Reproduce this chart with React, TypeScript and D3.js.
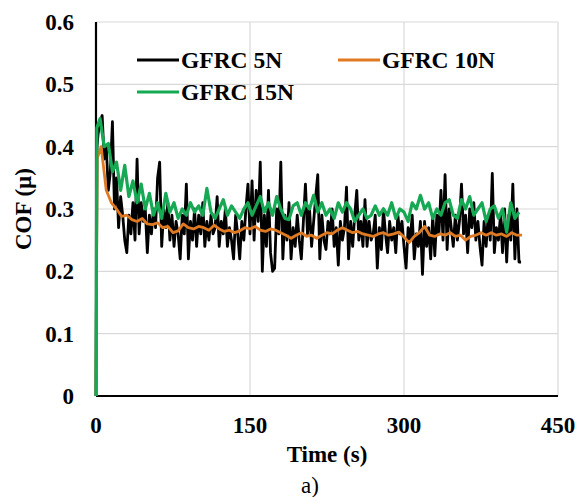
import React from "react";
import * as d3 from "d3";

const xTicks = [0, 150, 300, 450];
const yTicks = [0, 0.1, 0.2, 0.3, 0.4, 0.5, 0.6];
const yTickLabels = ["0", "0.1", "0.2", "0.3", "0.4", "0.5", "0.6"];
const seriesNames = ["GFRC 5N", "GFRC 10N", "GFRC 15N"];
const seriesColors = ["#000000", "#E07A22", "#16A853"];

// start-up rise (time s, COF) for each series
const riseT5N = [0, 1];
const riseV5N = [0, 0.40];
const riseT10N = [0, 1];
const riseV10N = [0, 0.38];
const riseT15N = [0, 0.8];
const riseV15N = [0, 0.43];

// GFRC 5N, every 2 s from t = 2 s
const start5N = 2;
const step5N = 2;
const cof5N = [
  0.42, 0.44, 0.45, 0.38, 0.40, 0.33, 0.36, 0.44, 0.30, 0.35, 0.27, 0.32, 0.29, 0.25, 0.23,
  0.29, 0.26, 0.31, 0.25, 0.38, 0.26, 0.31, 0.28, 0.30, 0.23, 0.29, 0.26, 0.30, 0.27, 0.35,
  0.375, 0.24, 0.30, 0.27, 0.31, 0.25, 0.29, 0.24, 0.28, 0.26, 0.22, 0.29, 0.26, 0.34, 0.22,
  0.28, 0.25, 0.30, 0.24, 0.29, 0.26, 0.31, 0.24, 0.28, 0.25, 0.29, 0.26, 0.27, 0.32, 0.24,
  0.28, 0.26, 0.30, 0.24, 0.27, 0.25, 0.22, 0.29, 0.26, 0.22, 0.28, 0.25, 0.30, 0.34, 0.26,
  0.345, 0.25, 0.33, 0.28, 0.375, 0.20, 0.29, 0.24, 0.33, 0.23, 0.20, 0.205, 0.30, 0.26, 0.375,
  0.22, 0.29, 0.25, 0.31, 0.22, 0.27, 0.24, 0.29, 0.25, 0.22, 0.28, 0.34, 0.26, 0.30, 0.24,
  0.28, 0.32, 0.355, 0.22, 0.29, 0.25, 0.235, 0.28, 0.26, 0.30, 0.24, 0.27, 0.21, 0.28, 0.25,
  0.27, 0.335, 0.22, 0.28, 0.24, 0.29, 0.33, 0.25, 0.28, 0.24, 0.315, 0.24, 0.28, 0.25, 0.26,
  0.29, 0.205, 0.27, 0.235, 0.30, 0.26, 0.23, 0.28, 0.25, 0.27, 0.23, 0.29, 0.26, 0.28, 0.24,
  0.205, 0.27, 0.25, 0.29, 0.22, 0.26, 0.24, 0.28, 0.195, 0.28, 0.24, 0.27, 0.22, 0.29, 0.225,
  0.29, 0.26, 0.33, 0.25, 0.355, 0.235, 0.30, 0.27, 0.24, 0.29, 0.25, 0.28, 0.34, 0.26, 0.29,
  0.23, 0.30, 0.27, 0.31, 0.25, 0.28, 0.24, 0.21, 0.28, 0.24, 0.29, 0.25, 0.357, 0.23, 0.27,
  0.25, 0.29, 0.23, 0.30, 0.215, 0.29, 0.25, 0.34, 0.22, 0.30, 0.215, 0.215,
];

// GFRC 10N, every 5 s from t = 5 s
const start10N = 5;
const step10N = 5;
const cof10N = [
  0.40, 0.33, 0.31, 0.30, 0.288, 0.29, 0.283, 0.28, 0.285,
  0.276, 0.275, 0.278, 0.27, 0.272, 0.262, 0.265, 0.276, 0.27, 0.268,
  0.272, 0.27, 0.266, 0.274, 0.268, 0.264, 0.266, 0.262, 0.265, 0.27,
  0.268, 0.272, 0.266, 0.264, 0.268, 0.266, 0.262, 0.258, 0.253, 0.258,
  0.262, 0.256, 0.258, 0.253, 0.258, 0.262, 0.26, 0.266, 0.27, 0.266,
  0.262, 0.264, 0.26, 0.258, 0.256, 0.26, 0.262, 0.258, 0.26, 0.263,
  0.255, 0.246, 0.256, 0.262, 0.272, 0.258, 0.256, 0.26, 0.258, 0.262,
  0.256, 0.258, 0.25, 0.256, 0.258, 0.262, 0.258, 0.262, 0.258, 0.26,
  0.256, 0.262, 0.258, 0.258,
];

// GFRC 15N, every 4 s from t = 4 s
const start15N = 4;
const step15N = 4;
const cof15N = [
  0.445, 0.40, 0.405, 0.36, 0.375, 0.33, 0.37, 0.32, 0.345,
  0.31, 0.34, 0.30, 0.325, 0.29, 0.31, 0.285, 0.325, 0.295, 0.31,
  0.285, 0.30, 0.29, 0.31, 0.295, 0.305, 0.29, 0.333, 0.295, 0.285,
  0.30, 0.315, 0.29, 0.305, 0.295, 0.285, 0.30, 0.31, 0.29, 0.305,
  0.32, 0.295, 0.31, 0.29, 0.32, 0.30, 0.285, 0.283, 0.305, 0.31,
  0.29, 0.31, 0.30, 0.322, 0.295, 0.31, 0.29, 0.30, 0.285, 0.31,
  0.295, 0.31, 0.30, 0.28, 0.29, 0.30, 0.285, 0.29, 0.305, 0.29,
  0.30, 0.29, 0.31, 0.285, 0.30, 0.295, 0.28, 0.31, 0.30, 0.322,
  0.30, 0.31, 0.285, 0.30, 0.29, 0.31, 0.315, 0.29, 0.285, 0.315,
  0.30, 0.32, 0.29, 0.30, 0.31, 0.28, 0.30, 0.305, 0.285, 0.30,
  0.263, 0.31, 0.285, 0.295,
];

const W = 584;
const H = 497;
const plot = { left: 96, right: 558, top: 22, bottom: 396 };
const FONT = "'Liberation Serif', 'Times New Roman', serif";

export default function App() {
  const x = d3.scaleLinear().domain([0, 450]).range([plot.left, plot.right]);
  const y = d3.scaleLinear().domain([0, 0.6]).range([plot.bottom, plot.top]);

  const line = d3
    .line<[number, number]>()
    .x((d) => x(d[0]))
    .y((d) => y(d[1]));

  const toPts = (
    riseT: number[],
    riseV: number[],
    vals: number[],
    start: number,
    step: number
  ): [number, number][] => [
    ...riseT.map((t, i) => [t, riseV[i]] as [number, number]),
    ...vals.map((v, i) => [start + i * step, v] as [number, number]),
  ];

  const series = [
    { pts: toPts(riseT5N, riseV5N, cof5N, start5N, step5N), color: seriesColors[0], w: 2.8 },
    { pts: toPts(riseT10N, riseV10N, cof10N, start10N, step10N), color: seriesColors[1], w: 2.8 },
    { pts: toPts(riseT15N, riseV15N, cof15N, start15N, step15N), color: seriesColors[2], w: 3.2 },
  ];

  const legend = [
    { name: seriesNames[0], color: seriesColors[0], lx: 137, ly: 60 },
    { name: seriesNames[1], color: seriesColors[1], lx: 338, ly: 60 },
    { name: seriesNames[2], color: seriesColors[2], lx: 137, ly: 92 },
  ];

  return (
    <svg
      width={W}
      height={H}
      style={{ position: "absolute", left: 0, top: 0, background: "#fff" }}
      fontFamily={FONT}
    >
      <rect x={0} y={0} width={W} height={H} fill="#fff" />
      {yTicks.slice(1).map((t) => (
        <line key={"gy" + t} x1={plot.left} x2={plot.right} y1={y(t)} y2={y(t)} stroke="#d9d9d9" strokeWidth={1.2} />
      ))}
      {xTicks.slice(1).map((t) => (
        <line key={"gx" + t} x1={x(t)} x2={x(t)} y1={plot.top} y2={plot.bottom} stroke="#d9d9d9" strokeWidth={1.2} />
      ))}
      <line x1={plot.left} x2={plot.left} y1={plot.top} y2={plot.bottom} stroke="#000" strokeWidth={2.2} />
      <line x1={plot.left} x2={plot.right} y1={plot.bottom} y2={plot.bottom} stroke="#000" strokeWidth={2.2} />
      {series.map((s, i) => (
        <path key={i} d={line(s.pts) || ""} fill="none" stroke={s.color} strokeWidth={s.w} strokeLinejoin="round" />
      ))}
      {yTicks.map((t, i) => (
        <text key={"yl" + t} x={74} y={y(t) + 8} textAnchor="end" fontSize={23} fontWeight="bold">
          {yTickLabels[i]}
        </text>
      ))}
      {xTicks.map((t) => (
        <text key={"xl" + t} x={x(t)} y={433} textAnchor="middle" fontSize={23} fontWeight="bold">
          {t}
        </text>
      ))}
      <text x={(plot.left + plot.right) / 2} y={462} textAnchor="middle" fontSize={23} fontWeight="bold">
        Time (s)
      </text>
      <text
        transform={`translate(31, ${(plot.top + plot.bottom) / 2}) rotate(-90)`}
        textAnchor="middle"
        fontSize={23}
        fontWeight="bold"
      >
        COF (µ)
      </text>
      <text x={310} y={493} textAnchor="middle" fontSize={23}>
        a)
      </text>
      {legend.map((l) => (
        <g key={l.name}>
          <line x1={l.lx} x2={l.lx + 42} y1={l.ly} y2={l.ly} stroke={l.color} strokeWidth={3} />
          <text x={l.lx + 44} y={l.ly + 8} fontSize={23.5} fontWeight="bold">
            {l.name}
          </text>
        </g>
      ))}
    </svg>
  );
}
